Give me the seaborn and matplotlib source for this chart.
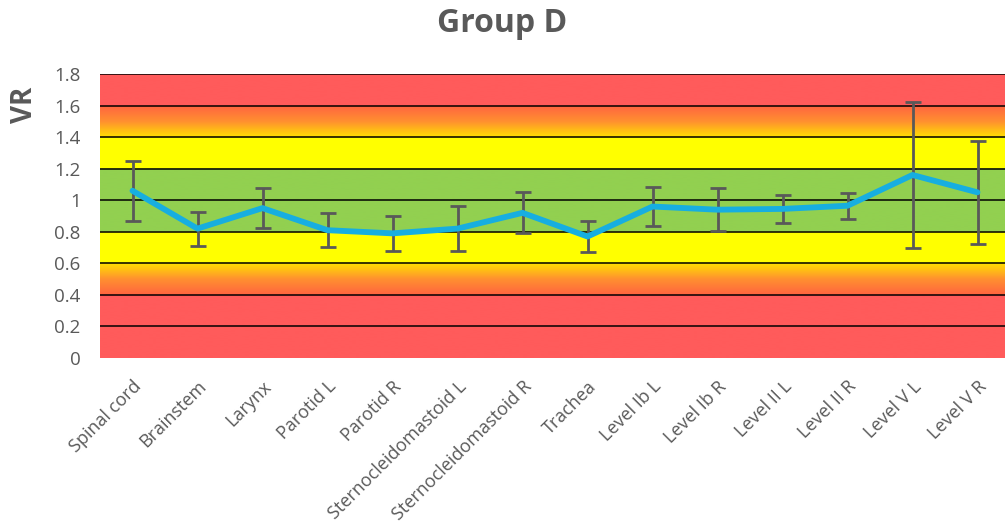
import numpy as np
import pandas as pd
import matplotlib
matplotlib.use("Agg")
import matplotlib.pyplot as plt
from matplotlib.colors import LinearSegmentedColormap
import seaborn as sns

structures = ["Spinal cord", "Brainstem", "Larynx", "Parotid L", "Parotid R",
              "Sternocleidomastoid L", "Sternocleidomastoid R", "Trachea",
              "Level Ib L", "Level Ib R", "Level II L", "Level II R",
              "Level V L", "Level V R"]
vr_mean = [1.06, 0.82, 0.95, 0.81, 0.79, 0.82, 0.92, 0.77,
           0.96, 0.94, 0.945, 0.965, 1.16, 1.05]
vr_sd = [0.19, 0.108, 0.127, 0.108, 0.113, 0.142, 0.13, 0.10,
         0.125, 0.136, 0.089, 0.083, 0.465, 0.327]
y_ticks = [0, 0.2, 0.4, 0.6, 0.8, 1, 1.2, 1.4, 1.6, 1.8]
y_tick_labels = ["0", "0.2", "0.4", "0.6", "0.8", "1", "1.2", "1.4", "1.6", "1.8"]

df = pd.DataFrame({"structure": structures, "vr": vr_mean, "sd": vr_sd})

sns.set_theme(style="white")
plt.rcParams["font.family"] = ["Open Sans", "DejaVu Sans"]

TEXT = "#595959"

fig = plt.figure(figsize=(10.05, 5.27), dpi=100)
ax = fig.add_axes([100 / 1005, (527 - 358) / 527, 910 / 1005, 284 / 527])

# Traffic-light background: red / orange gradient / yellow / green bands
ymax = 1.8
stops = [
    (0.0, "#FF5B5B"), (0.4, "#FF5B5B"),
    (0.4001, "#FF6440"), (0.5, "#FF9030"), (0.6, "#FFE000"),
    (0.6001, "#FFFF00"), (0.8, "#FFFF00"),
    (0.8001, "#92D050"), (1.2, "#92D050"),
    (1.2001, "#FFFF00"), (1.4, "#FFFF00"),
    (1.4001, "#FFE000"), (1.5, "#FF9030"), (1.6, "#FF6440"),
    (1.6001, "#FF5B5B"), (1.8, "#FF5B5B"),
]
cmap = LinearSegmentedColormap.from_list("bands", [(v / ymax, c) for v, c in stops], N=1024)
grad = np.linspace(0, 1, 1024).reshape(-1, 1)
n = len(structures)
ax.imshow(grad, cmap=cmap, origin="lower", aspect="auto",
          extent=[-0.5, n - 0.5, 0, ymax], zorder=0, interpolation="bilinear")

for yv in y_ticks[1:]:
    ax.axhline(yv, color="black", lw=1.1, zorder=1)

ax.errorbar(np.arange(n), df["vr"], yerr=df["sd"], fmt="none",
            ecolor=TEXT, elinewidth=2.0, capsize=6, capthick=2.0, zorder=2)
sns.lineplot(data=df, x="structure", y="vr", sort=False, ax=ax,
             color="#17AEE0", lw=4.2, zorder=3)

ax.set_xlim(-0.5, n - 0.5)
ax.set_ylim(0, ymax)
ax.set_yticks(y_ticks)
ax.set_yticklabels(y_tick_labels, fontsize=13.5, color=TEXT)
ax.set_xticks(np.arange(n))
ax.set_xticklabels(structures, rotation=45, ha="right", rotation_mode="anchor",
                   fontsize=13, color=TEXT)
ax.tick_params(axis="y", length=0, pad=14)
ax.tick_params(axis="x", length=0, pad=14)
for s in ax.spines.values():
    s.set_visible(False)

ax.set_xlabel("")
ax.set_ylabel("")
fig.text(25 / 1005, 1 - 105 / 527, "VR", rotation=90, ha="center", va="center",
         fontsize=20, fontweight="bold", color=TEXT)

fig.text(0.5, 1 - 23 / 527, "Group D", ha="center", va="center",
         fontsize=23, fontweight="bold", color=TEXT)

fig.savefig("out.png", dpi=100)
